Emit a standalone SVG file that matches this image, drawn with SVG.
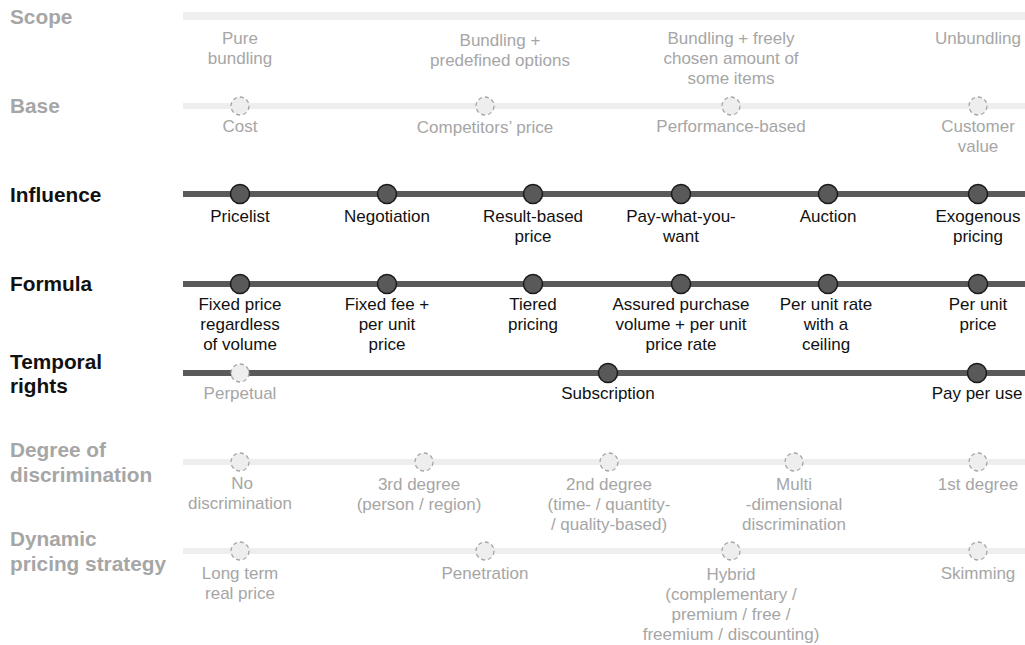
<svg xmlns="http://www.w3.org/2000/svg" width="1025" height="645" viewBox="0 0 1025 645">
<style>
text{font-family:"Liberation Sans",Arial,sans-serif;text-anchor:middle}
.rl{font-size:20.8px;font-weight:bold;text-anchor:start}
.g{fill:#a6a6a6}
.k{fill:#111111}
.t{font-size:17px}
.ll{stroke:#eeeeee;stroke-width:6}
.dl{stroke:#5a5a5a;stroke-width:6}
.ln{fill:#eeeeee;stroke:#a6a6a6;stroke-width:1.3;stroke-dasharray:4 3}
.dn{fill:#595959;stroke:#1a1a1a;stroke-width:1.5}
</style>
<rect width="1025" height="645" fill="#ffffff"/>
<g id="connectors">
<line class="ll" x1="183" y1="16" x2="1025" y2="16" style="stroke-width:8"/>
<line class="ll" x1="183" y1="106" x2="1025" y2="106"/>
<line class="dl" x1="183" y1="194" x2="1025" y2="194"/>
<line class="dl" x1="183" y1="284" x2="1025" y2="284"/>
<line class="dl" x1="183" y1="373" x2="1025" y2="373"/>
<line class="ll" x1="183" y1="462" x2="1025" y2="462"/>
<line class="ll" x1="183" y1="551" x2="1025" y2="551"/>
</g>
<g id="row-labels">
<text class="rl g" x="10" y="24">Scope</text>
<text class="rl g" x="10" y="113">Base</text>
<text class="rl k" x="10" y="202">Influence</text>
<text class="rl k" x="10" y="291">Formula</text>
<text class="rl k" x="10" y="369">Temporal</text>
<text class="rl k" x="10" y="393">rights</text>
<text class="rl g" x="10" y="457">Degree of</text>
<text class="rl g" x="10" y="482">discrimination</text>
<text class="rl g" x="10" y="546">Dynamic</text>
<text class="rl g" x="10" y="571">pricing strategy</text>
</g>
<g id="scope">
<text class="t g" x="240" y="44">Pure</text><text class="t g" x="240" y="64">bundling</text>
<text class="t g" x="500" y="46">Bundling +</text><text class="t g" x="500" y="66">predefined options</text>
<text class="t g" x="731" y="44">Bundling + freely</text><text class="t g" x="731" y="64">chosen amount of</text><text class="t g" x="731" y="84">some items</text>
<text class="t g" x="978" y="44">Unbundling</text>
</g>
<g id="base">
<circle class="ln" cx="240" cy="106" r="9"/><text class="t g" x="240" y="132">Cost</text>
<circle class="ln" cx="485" cy="106" r="9"/><text class="t g" x="485" y="133">Competitors’ price</text>
<circle class="ln" cx="731" cy="106" r="9"/><text class="t g" x="731" y="132">Performance-based</text>
<circle class="ln" cx="978" cy="106" r="9"/><text class="t g" x="978" y="132">Customer</text><text class="t g" x="978" y="152">value</text>
</g>
<g id="influence">
<circle class="dn" cx="240" cy="194" r="9.5"/><text class="t k" x="240" y="222">Pricelist</text>
<circle class="dn" cx="387" cy="194" r="9.5"/><text class="t k" x="387" y="222">Negotiation</text>
<circle class="dn" cx="533" cy="194" r="9.5"/><text class="t k" x="533" y="222">Result-based</text><text class="t k" x="533" y="242">price</text>
<circle class="dn" cx="681" cy="194" r="9.5"/><text class="t k" x="681" y="222">Pay-what-you-</text><text class="t k" x="681" y="242">want</text>
<circle class="dn" cx="828" cy="194" r="9.5"/><text class="t k" x="828" y="222">Auction</text>
<circle class="dn" cx="978" cy="194" r="9.5"/><text class="t k" x="978" y="222">Exogenous</text><text class="t k" x="978" y="242">pricing</text>
</g>
<g id="formula">
<circle class="dn" cx="240" cy="284" r="9.5"/><text class="t k" x="240" y="310">Fixed price</text><text class="t k" x="240" y="330">regardless</text><text class="t k" x="240" y="350">of volume</text>
<circle class="dn" cx="387" cy="284" r="9.5"/><text class="t k" x="387" y="310">Fixed fee +</text><text class="t k" x="387" y="330">per unit</text><text class="t k" x="387" y="350">price</text>
<circle class="dn" cx="533" cy="284" r="9.5"/><text class="t k" x="533" y="310">Tiered</text><text class="t k" x="533" y="330">pricing</text>
<circle class="dn" cx="681" cy="284" r="9.5"/><text class="t k" x="681" y="310">Assured purchase</text><text class="t k" x="681" y="330">volume + per unit</text><text class="t k" x="681" y="350">price rate</text>
<circle class="dn" cx="828" cy="284" r="9.5"/><text class="t k" x="826" y="310">Per unit rate</text><text class="t k" x="826" y="330">with a</text><text class="t k" x="826" y="350">ceiling</text>
<circle class="dn" cx="978" cy="284" r="9.5"/><text class="t k" x="978" y="310">Per unit</text><text class="t k" x="978" y="330">price</text>
</g>
<g id="temporal">
<circle class="ln" cx="240" cy="373" r="9"/><text class="t g" x="240" y="399">Perpetual</text>
<circle class="dn" cx="608" cy="373" r="9.5"/><text class="t k" x="608" y="399">Subscription</text>
<circle class="dn" cx="977" cy="373" r="9.5"/><text class="t k" x="977" y="399">Pay per use</text>
</g>
<g id="discrimination">
<circle class="ln" cx="240" cy="462" r="9"/><text class="t g" x="242" y="489">No</text><text class="t g" x="240" y="509">discrimination</text>
<circle class="ln" cx="424" cy="462" r="9"/><text class="t g" x="419" y="490">3rd degree</text><text class="t g" x="419" y="510">(person / region)</text>
<circle class="ln" cx="609" cy="462" r="9"/><text class="t g" x="609" y="490">2nd degree</text><text class="t g" x="609" y="510">(time- / quantity-</text><text class="t g" x="609" y="530">/ quality-based)</text>
<circle class="ln" cx="794" cy="462" r="9"/><text class="t g" x="794" y="490">Multi</text><text class="t g" x="794" y="510">-dimensional</text><text class="t g" x="794" y="530">discrimination</text>
<circle class="ln" cx="978" cy="462" r="9"/><text class="t g" x="978" y="490">1st degree</text>
</g>
<g id="dynamic">
<circle class="ln" cx="240" cy="551" r="9"/><text class="t g" x="240" y="579">Long term</text><text class="t g" x="240" y="599">real price</text>
<circle class="ln" cx="485" cy="551" r="9"/><text class="t g" x="485" y="579">Penetration</text>
<circle class="ln" cx="731" cy="551" r="9"/><text class="t g" x="731" y="580">Hybrid</text><text class="t g" x="731" y="600">(complementary /</text><text class="t g" x="731" y="620">premium / free /</text><text class="t g" x="731" y="640">freemium / discounting)</text>
<circle class="ln" cx="978" cy="551" r="9"/><text class="t g" x="978" y="579">Skimming</text>
</g>
</svg>
